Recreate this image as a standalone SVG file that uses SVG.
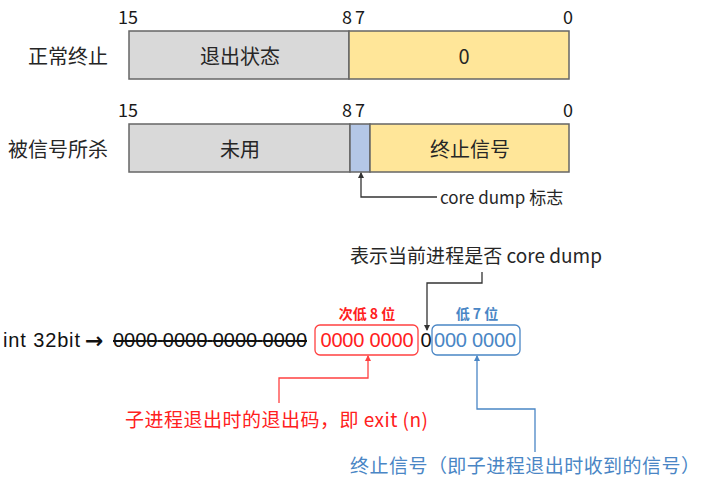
<svg xmlns="http://www.w3.org/2000/svg" width="711" height="479" viewBox="0 0 711 479">
<defs>
<style>
text{font-family:"Noto Sans CJK SC","Noto Sans",sans-serif;dominant-baseline:central;}
.lbl{font-size:20px;fill:#262626;}
.num{font-size:18px;fill:#1a1a1a;}
.hv{font-family:"Liberation Sans","Noto Sans CJK SC",sans-serif;font-size:20px;}
.gray{fill:#d9d9d9;stroke:#666;stroke-width:1.5;}
.yel{fill:#ffe699;stroke:#666;stroke-width:1.5;}
.blu{fill:#b4c7e7;stroke:#666;stroke-width:1.5;}
.ck{fill:none;stroke:#333;stroke-width:1.3;}
.cr{fill:none;stroke:#ff4040;stroke-width:1.3;}
.cb{fill:none;stroke:#4a86c5;stroke-width:1.3;}
.red{fill:#ff2020;}
.blue{fill:#4a86c5;}
</style>
<marker id="ak" markerWidth="6" markerHeight="6" refX="5" refY="3" orient="auto" markerUnits="userSpaceOnUse"><path d="M0,0 L6,3 L0,6 Z" fill="#333"/></marker>
<marker id="ar" markerWidth="6" markerHeight="6" refX="5" refY="3" orient="auto" markerUnits="userSpaceOnUse"><path d="M0,0 L6,3 L0,6 Z" fill="#ff4040"/></marker>
<marker id="ab" markerWidth="6" markerHeight="6" refX="5" refY="3" orient="auto" markerUnits="userSpaceOnUse"><path d="M0,0 L6,3 L0,6 Z" fill="#4a86c5"/></marker>
</defs>
<rect width="711" height="479" fill="#fff"/>

<g id="row-normal">
<text class="lbl" x="108" y="55" text-anchor="end">正常终止</text>
<text class="num" x="128" y="16" text-anchor="middle">15</text>
<text class="num" x="347" y="16" text-anchor="middle">8</text>
<text class="num" x="360" y="16" text-anchor="middle">7</text>
<text class="num" x="568" y="16" text-anchor="middle">0</text>
<rect class="gray" x="129" y="31" width="220" height="48"/>
<rect class="yel" x="349" y="31" width="220" height="48"/>
<text class="lbl" x="240" y="55" text-anchor="middle">退出状态</text>
<text class="lbl" x="464" y="55" text-anchor="middle">0</text>
</g>

<g id="row-signal">
<text class="lbl" x="108" y="148" text-anchor="end">被信号所杀</text>
<text class="num" x="128" y="109" text-anchor="middle">15</text>
<text class="num" x="347" y="109" text-anchor="middle">8</text>
<text class="num" x="360" y="109" text-anchor="middle">7</text>
<text class="num" x="568" y="109" text-anchor="middle">0</text>
<rect class="gray" x="129" y="124" width="221" height="48"/>
<rect class="blu" x="350" y="124" width="20" height="48"/>
<rect class="yel" x="370" y="124" width="199" height="48"/>
<text class="lbl" x="240" y="148" text-anchor="middle">未用</text>
<text class="lbl" x="470" y="148" text-anchor="middle">终止信号</text>
</g>

<g id="core-dump-flag">
<text x="440" y="196" style="font-size:17px;fill:#262626">core dump 标志</text>
</g>

<g id="core-dump-note">
<text x="350" y="254" style="font-size:19px;fill:#262626" textLength="252">表示当前进程是否 core dump</text>
</g>

<g id="int32">
<text class="hv" x="3" y="340" style="fill:#111" textLength="77">int 32bit</text>
<text x="85" y="340" style="font-family:'DejaVu Sans',sans-serif;font-size:22px;font-weight:bold;fill:#111" textLength="18">→</text>
<text class="hv" x="113" y="340" style="fill:#111;text-decoration:line-through" textLength="194">0000 0000 0000 0000</text>
</g>

<g id="high8">
<text class="red" x="367" y="313" text-anchor="middle" style="font-size:14px;font-weight:bold">次低 8 位</text>
<rect x="315" y="325" width="103" height="30" rx="5" fill="none" stroke="#ff4040" stroke-width="1.3"/>
<text class="red hv" x="367" y="340" text-anchor="middle" textLength="93">0000 0000</text>
</g>

<g id="coredump-bit">
<text class="hv" x="426" y="340" text-anchor="middle" style="fill:#111">0</text>
</g>

<g id="low7">
<text class="blue" x="477" y="313" text-anchor="middle" style="font-size:14px;font-weight:bold">低 7 位</text>
<rect x="432" y="325" width="88" height="30" rx="5" fill="none" stroke="#4a86c5" stroke-width="1.3"/>
<text class="blue hv" x="475" y="340" text-anchor="middle" textLength="82">000 0000</text>
</g>

<g id="exit-code-note">
<text class="red" x="125" y="418" style="font-size:19px" textLength="303">子进程退出时的退出码，即 exit (n)</text>
</g>

<g id="signal-note">
<text class="blue" x="350" y="464" style="font-size:19px" textLength="350">终止信号（即子进程退出时收到的信号）</text>
</g>

<g id="connectors">
<path class="ck" d="M437 197 H361 V173" marker-end="url(#ak)"/>
<path class="ck" d="M482 272 V283 H427 V330" marker-end="url(#ak)"/>
<path class="cr" d="M279 403 V378 H368 V356" marker-end="url(#ar)"/>
<path class="cb" d="M535 452 V409 H477 V356" marker-end="url(#ab)"/>
</g>
</svg>
